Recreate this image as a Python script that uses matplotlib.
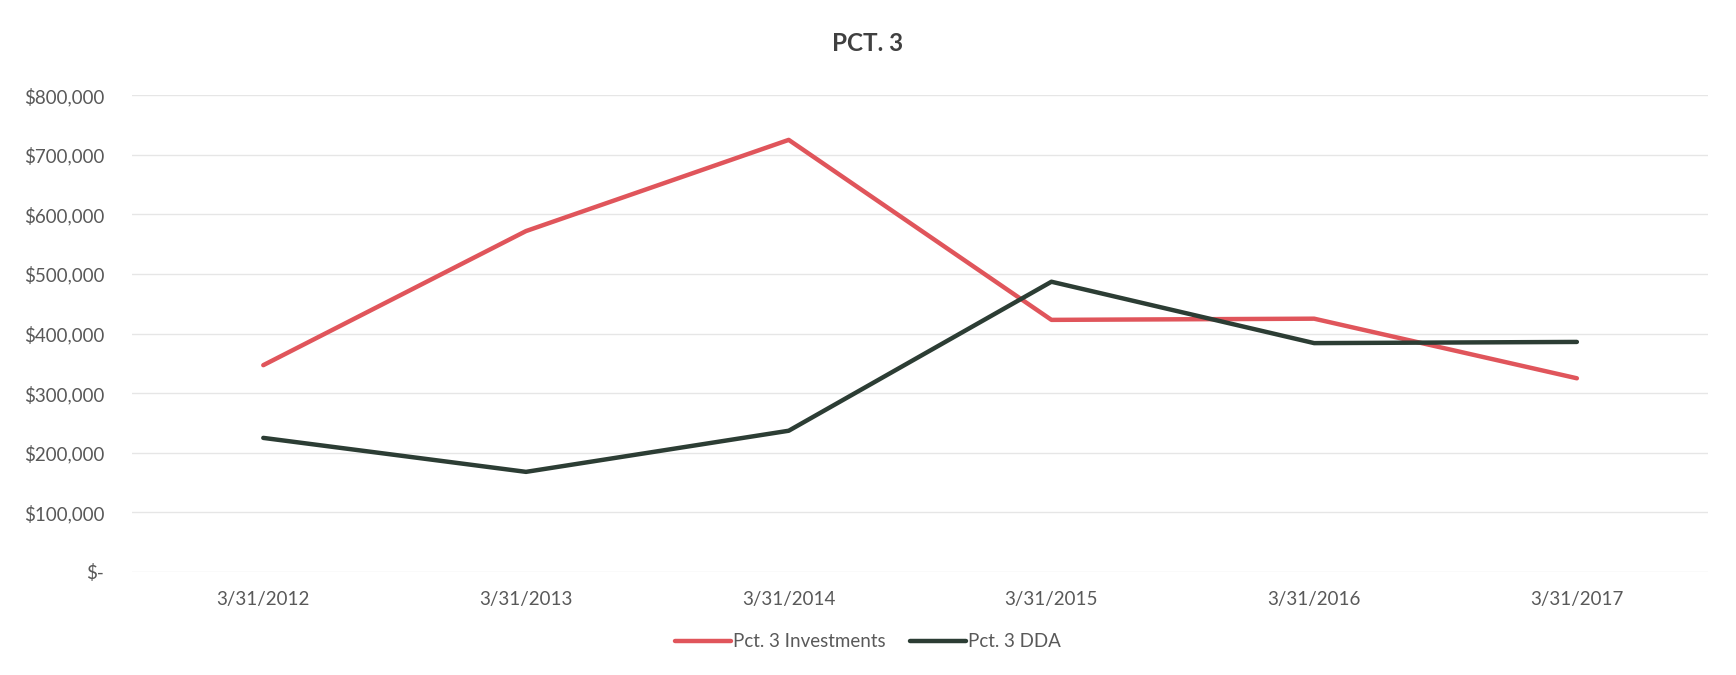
import matplotlib.pyplot as plt

dates = ['3/31/2012', '3/31/2013', '3/31/2014', '3/31/2015', '3/31/2016', '3/31/2017']
investments = [347000, 572000, 725000, 423000, 425000, 325000]
dda = [225000, 168000, 237000, 487000, 384000, 386000]
yticks = [0, 100000, 200000, 300000, 400000, 500000, 600000, 700000, 800000]

red = '#e0555b'
dark = '#2c3d34'
txt = '#595959'

plt.rcParams['font.family'] = ['Lato', 'DejaVu Sans']

fig = plt.figure(figsize=(17.36, 6.75), dpi=100)
ax = fig.add_axes([0.076, 0.1526, 0.908, 0.7064])

x = list(range(len(dates)))
ax.plot(x, investments, color=red, lw=3.2, label='Pct. 3 Investments', solid_capstyle='round')
ax.plot(x, dda, color=dark, lw=3.2, label='Pct. 3 DDA', solid_capstyle='round')

ax.set_xlim(-0.5, len(dates) - 0.5)
ax.set_ylim(0, 800000)
ax.set_yticks(yticks)
ax.set_yticklabels(['$-'] + ['${:,}'.format(v) for v in yticks[1:]])
ax.set_xticks(x)
ax.set_xticklabels(dates)
ax.tick_params(axis='both', length=0, labelsize=13.5, colors=txt)
ax.tick_params(axis='y', pad=20)
ax.tick_params(axis='x', pad=14)
ax.grid(axis='y', color='#e6e6e6', lw=1)
ax.set_axisbelow(True)
for s in ax.spines.values():
    s.set_visible(False)

fig.text(0.5, 0.935, 'PCT. 3', ha='center', va='center', fontsize=17.5, fontweight='bold', color='#404040')

fig.legend(loc='center', bbox_to_anchor=(0.5, 0.049), ncol=2, frameon=False,
           fontsize=13.5, handlelength=3.0, handletextpad=0.1, columnspacing=1.3,
           labelcolor=txt)

fig.savefig('out.png', dpi=100, facecolor='white')
